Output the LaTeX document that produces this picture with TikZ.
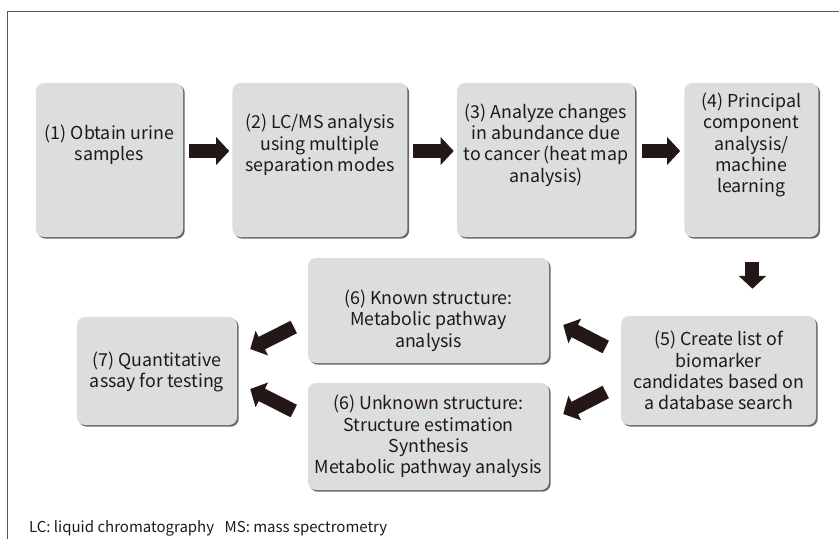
\documentclass[tikz,border=0pt]{standalone}
\usepackage{fontspec}
\setmainfont{Noto Sans CJK JP}
\usetikzlibrary{positioning,calc,shadows,arrows.meta}

\definecolor{ink}{HTML}{231815}
\definecolor{boxgray}{HTML}{DCDDDD}
\definecolor{edge}{HTML}{595757}

\tikzset{
  box/.style={fill=boxgray, rounded corners=0.24cm, minimum height=4.62cm, inner sep=0pt,
    drop shadow={shadow xshift=0.05cm, shadow yshift=-0.05cm, fill=edge, opacity=0.9}},
  txt/.style={align=center, text=ink, font=\fontsize{15.2}{18.2}\selectfont},
  fat/.style={draw=ink, line width=0.42cm, -{Triangle[width=0.81cm,length=0.39cm]}},
}

\begin{document}
\begin{tikzpicture}[x=0.03cm, y=-0.03cm]
\useasboundingbox (0,0) rectangle (839,539);
\draw[edge, line width=0.8pt] (7,539) |- (839,11);

% top row
\node (1)[box, minimum width=4.41cm] at (109.5,160) {};
\node (2)[box, minimum width=5.25cm, right=1.47cm of 1] {};
\node (3)[box, minimum width=5.34cm, right=1.47cm of 2] {};
\node (4)[box, minimum width=4.02cm, right=1.47cm of 3] {};
\node (1t)[txt] at ($(1)+(0,-15)$) {(1) Obtain urine\\samples};
\node (2t)[txt] at ($(2)+(0,-15)$) {(2) LC/MS analysis\\using multiple\\separation modes};
\node (3t)[txt] at ($(3)+(0,-15)$) {(3) Analyze changes\\in abundance due\\to cancer (heat map\\analysis)};
\node (4t)[txt] at ($(4)+(0,-15)$) {(4) Principal\\component\\analysis/\\machine\\learning};

% lower rows
\node (5)[box, minimum width=5.85cm, minimum height=3.27cm] at (718.5,370.5) {};
\node (6k)[box, minimum width=7.23cm, minimum height=3.15cm] at (428.5,310.5) {};
\node (6u)[box, minimum width=7.23cm, minimum height=3.21cm] at (428.5,436.5) {};
\node (7)[box, minimum width=4.8cm, minimum height=3.24cm] at (157,371) {};
\node (5t)[txt] at (5) {(5) Create list of\\biomarker\\candidates based on\\a database search};
\node (6kt)[txt] at ($(6k)+(0,10)$) {(6) Known structure:\\Metabolic pathway\\analysis};
\node (6ut)[txt] at (6u) {(6) Unknown structure:\\Structure estimation\\Synthesis\\Metabolic pathway analysis};
\node (7t)[txt] at ($(7)+(0,1)$) {(7) Quantitative\\assay for testing};

\draw[fat] ($(1.east)+(6,-9)$) -- ($(2.west)+(-3,-9)$);
\draw[fat] ($(2.east)+(5,-9)$) -- ($(3.west)+(-3,-9)$);
\draw[fat] ($(3.east)+(7,-9)$) -- ($(4.west)+(-4,-9)$);
\draw[fat] ($(4.south)+(1,25)$) -- ($(4.south |- 5.north)+(1,-27)$);
\draw[fat] ($(5.west)+(-15,-23.5)$) -- ($(6k.east)+(14,14.5)$);
\draw[fat] ($(5.west)+(-15,21.5)$) -- ($(6u.east)+(14,-22.5)$);
\draw[fat] ($(6k.west)+(-14,16.5)$) -- ($(7.east)+(13,-22)$);
\draw[fat] ($(6u.west)+(-14,-25.5)$) -- ($(7.east)+(13,18)$);

\node (note)[anchor=west, text=ink, font=\fontsize{12.8}{15}\selectfont] at (25,528)
  {LC: liquid chromatography\hspace{0.7em}MS: mass spectrometry};
\end{tikzpicture}
\end{document}
